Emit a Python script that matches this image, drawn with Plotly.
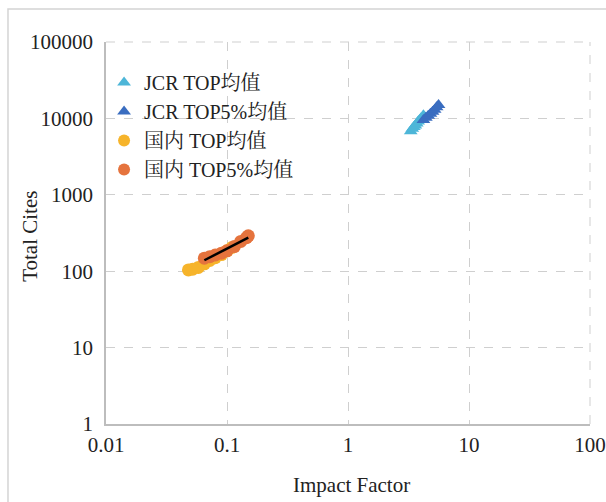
import numpy as np
import plotly.graph_objects as go

# ---- data ----
jcr_top_if = [3.3, 3.4, 3.5, 3.6, 3.7, 3.8, 3.9, 4.0, 4.2]
jcr_top_tc = [6800, 7300, 7700, 8100, 8600, 9100, 9500, 10000, 11000]

jcr_top5_if = [4.2, 4.4, 4.6, 4.8, 5.0, 5.2, 5.4, 5.6]
jcr_top5_tc = [9500, 10200, 10800, 11500, 12200, 13000, 14000, 15000]

cn_top_if = [0.048, 0.052, 0.058, 0.065, 0.072, 0.080, 0.090, 0.100, 0.110]
cn_top_tc = [104, 106, 112, 125, 138, 150, 165, 185, 205]

cn_top5_if = [0.065, 0.072, 0.080, 0.090, 0.100, 0.115, 0.130, 0.145, 0.150]
cn_top5_tc = [148, 155, 163, 172, 185, 210, 245, 275, 290]

x_ticks = [0.01, 0.1, 1, 10, 100]
x_tick_labels = ["0.01", "0.1", "1", "10", "100"]
y_ticks = [1, 10, 100, 1000, 10000, 100000]
y_tick_labels = ["1", "10", "100", "1000", "10000", "100000"]

names = ["JCR TOP均值", "JCR TOP5%均值", "国内 TOP均值", "国内 TOP5%均值"]

FONT = "Liberation Serif, Times New Roman, Noto Serif CJK SC, Noto Sans CJK SC, serif"

fig = go.Figure()
fig.add_trace(go.Scatter(x=jcr_top_if, y=jcr_top_tc, mode="markers", name=names[0],
                         marker=dict(symbol="triangle-up", size=12, color="#4DB6D8")))
fig.add_trace(go.Scatter(x=jcr_top5_if, y=jcr_top5_tc, mode="markers", name=names[1],
                         marker=dict(symbol="triangle-up", size=12, color="#3A6DC0")))
fig.add_trace(go.Scatter(x=cn_top_if, y=cn_top_tc, mode="markers", name=names[2],
                         marker=dict(symbol="circle", size=13, color="#F6B42B")))
fig.add_trace(go.Scatter(x=cn_top5_if, y=cn_top5_tc, mode="markers", name=names[3],
                         marker=dict(symbol="circle", size=13, color="#E5733D")))

# power-law trendline fitted to 国内 TOP5%
lx = np.log10(cn_top5_if)
ly = np.log10(cn_top5_tc)
b, a = np.polyfit(lx, ly, 1)
tx = np.array([min(cn_top5_if), max(cn_top5_if)])
ty = 10 ** (a + b * np.log10(tx))
fig.add_trace(go.Scatter(x=tx, y=ty, mode="lines", showlegend=False,
                         line=dict(color="black", width=2.5), hoverinfo="skip"))

fig.update_layout(
    width=606, height=502,
    margin=dict(l=106, r=16, t=42, b=78, autoexpand=False),
    paper_bgcolor="white", plot_bgcolor="white",
    font=dict(family=FONT, size=21, color="#222"),
    showlegend=True,
    legend=dict(x=-0.004, y=0.945, xanchor="left", yanchor="top",
                bgcolor="rgba(0,0,0,0)", font=dict(size=20, family=FONT),
                itemsizing="constant", tracegroupgap=0),
    xaxis=dict(type="log", range=[-2, 2], tickvals=x_ticks, ticktext=x_tick_labels,
               showgrid=True, gridcolor="#cfcfcf", griddash="dash", gridwidth=1,
               showline=True, linecolor="#bdbdbd", linewidth=1.5, automargin=False,
               ticks="", zeroline=False, ticklabelstandoff=1),
    yaxis=dict(type="log", range=[0, 5], tickvals=y_ticks, ticktext=y_tick_labels,
               showgrid=True, gridcolor="#cfcfcf", griddash="dash", gridwidth=1,
               showline=True, linecolor="#bdbdbd", linewidth=1.5, automargin=False,
               ticks="", zeroline=False, ticklabelstandoff=7),
    annotations=[
        dict(text="Impact Factor", xref="paper", yref="paper", x=0.508, y=-0.16,
             xanchor="center", yanchor="middle", showarrow=False, font=dict(size=21, family=FONT)),
        dict(text="Total Cites", xref="paper", yref="paper", x=-0.157, y=0.49,
             xanchor="center", yanchor="middle", showarrow=False, textangle=-90,
             font=dict(size=21, family=FONT)),
    ],
    shapes=[
        dict(type="rect", xref="paper", yref="paper", x0=-0.2025, y0=-0.4, x1=1.2, y1=1.0864,
             line=dict(color="#d4d4d4", width=1.5), layer="below"),
        dict(type="line", xref="paper", yref="paper", x0=0, x1=1, y0=1, y1=1,
             line=dict(color="#cfcfcf", width=1, dash="dash")),
        dict(type="line", xref="paper", yref="paper", x0=1, x1=1, y0=0, y1=1,
             line=dict(color="#cfcfcf", width=1, dash="dash")),
    ],
)

fig.write_html("out.html", config={"displayModeBar": False},
               post_script="document.body.style.margin='0';document.body.style.overflow='hidden';")
